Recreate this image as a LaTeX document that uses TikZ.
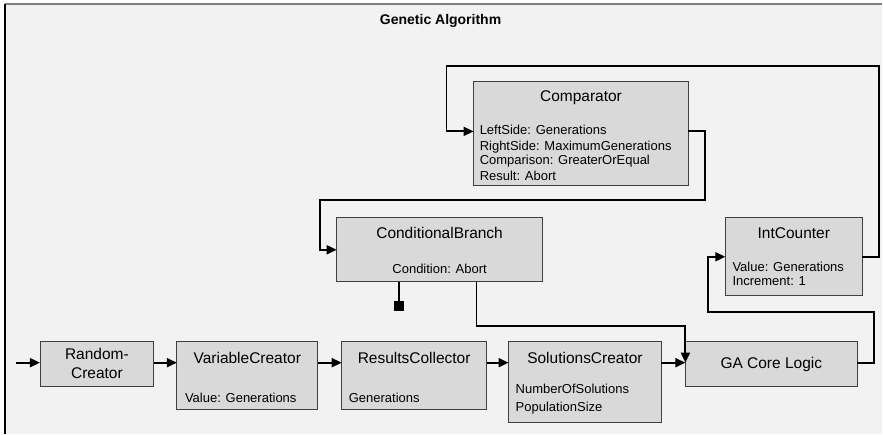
\documentclass[tikz,border=0pt]{standalone}
\usepackage{fontspec}
\setmainfont{Liberation Sans}
\usetikzlibrary{arrows.meta}
\definecolor{bgc}{HTML}{F2F2F2}
\definecolor{boxc}{HTML}{D9D9D9}
\definecolor{edgec}{HTML}{404040}
\definecolor{framec}{HTML}{808080}
\begin{document}
\begin{tikzpicture}[x=1pt,y=-1pt,
  box/.style={draw=edgec, fill=boxc, line width=0.8pt, inner sep=0pt, outer sep=0pt, anchor=north west},
  ttl/.style={font=\fontsize{15.5}{18}\selectfont, inner sep=0pt, anchor=base},
  dtl/.style={font=\fontsize{13}{15}\selectfont, inner sep=0pt, anchor=base west},
  dtlc/.style={font=\fontsize{13}{15}\selectfont, inner sep=0pt, anchor=base},
  conn/.style={line width=1.8pt, draw=black},
  arr/.style={conn, -{Triangle[length=10pt,width=9pt]}}]
% background and frame
\fill[white] (0,0) rectangle (883,434);
\fill[bgc] (5,4) rectangle (883,434);
\draw[framec, line width=1.6pt] (5,4) -- (883,4);
\draw[black, line width=1.3pt] (5,4) -- (5,434);
\useasboundingbox (0,0) rectangle (883,434);
% title
\node[font=\fontsize{14}{17}\selectfont\bfseries, inner sep=0pt, anchor=base] (title) at (441,25) {Genetic Algorithm};
% boxes
\node[box, minimum width=114pt, minimum height=45pt] (RC) at (40,342) {};
\node[box, minimum width=141pt, minimum height=68pt] (VC) at (177,342) {};
\node[box, minimum width=145pt, minimum height=68pt] (RCol) at (342,342) {};
\node[box, minimum width=153pt, minimum height=81pt] (SC) at (509,342) {};
\node[box, minimum width=172pt, minimum height=45pt] (GA) at (686,342) {};
\node[box, minimum width=206pt, minimum height=64pt] (CB) at (337,218) {};
\node[box, minimum width=215pt, minimum height=105pt] (Comp) at (474,81) {};
\node[box, minimum width=137pt, minimum height=78pt] (IC) at (726,218) {};
% texts
\node[ttl] (rct1) at (97,359.6) {Random-};
\node[ttl] (rct2) at (97,378.6) {Creator};
\node[ttl] (vct) at (247.5,363.6) {VariableCreator};
\node[dtl] (vcd) at (185,402.5) {Value: Generations};
\node[ttl] (rcolt) at (414.5,363.6) {ResultsCollector};
\node[dtl] (rcold) at (349,402.5) {Generations};
\node[ttl] (sct) at (585.5,363.6) {SolutionsCreator};
\node[dtl] (scd1) at (516,394) {NumberOfSolutions};
\node[dtl] (scd2) at (516,412) {PopulationSize};
\node[ttl] (gat) at (772,368.6) {GA Core Logic};
\node[ttl] (cbt) at (440,238.6) {ConditionalBranch};
\node[dtlc] (cbd) at (440,273.7) {Condition: Abort};
\node[ttl] (compt) at (581.5,101.6) {Comparator};
\node[dtl] (compd1) at (480,134.7) {LeftSide: Generations};
\node[dtl] (compd2) at (480,150.2) {RightSide: MaximumGenerations};
\node[dtl] (compd3) at (480,164.8) {Comparison: GreaterOrEqual};
\node[dtl] (compd4) at (480,180.7) {Result: Abort};
\node[ttl] (ict) at (794.5,238.6) {IntCounter};
\node[dtl] (icd1) at (733,271.7) {Value: Generations};
\node[dtl] (icd2) at (733,285.7) {Increment: 1};
% connector coordinates
\coordinate (in) at (16,363);
\coordinate (l1a) at (875,312);
\coordinate (l1b) at (709,312);
\coordinate (l2a) at (880,66);
\coordinate (l2b) at (447,66);
\coordinate (l3a) at (706,200);
\coordinate (l3b) at (320,200);
\coordinate (stub) at (399,301);
\coordinate (l4a) at (477,326);
% main row
\draw[arr] (in) -- (in -| RC.west);
\draw[arr] (RC.east |- in) -- (VC.west |- in);
\draw[arr] (VC.east |- in) -- (RCol.west |- in);
\draw[arr] (RCol.east |- in) -- (SC.west |- in);
\draw[arr] (SC.east |- in) -- (GA.west |- in);
% loops
\draw[arr] (GA.east |- in) -| (l1a) -- (l1b) |- (IC.west);
\draw[arr] (IC.east) -| (l2a) -- (l2b) |- ([yshift=2pt]Comp.west);
\draw[arr] ([yshift=2pt]Comp.east) -| (l3a) -- (l3b) |- (CB.west);
\draw[arr] (CB.south -| l4a) -- (l4a) -- (GA.west |- l4a) -- (GA.west |- in);
% stub with square end
\draw[conn] (CB.south -| stub) -- (stub);
\node[fill=black, minimum size=10pt, inner sep=0pt, anchor=north] (sq) at (stub) {};
\end{tikzpicture}
\end{document}
